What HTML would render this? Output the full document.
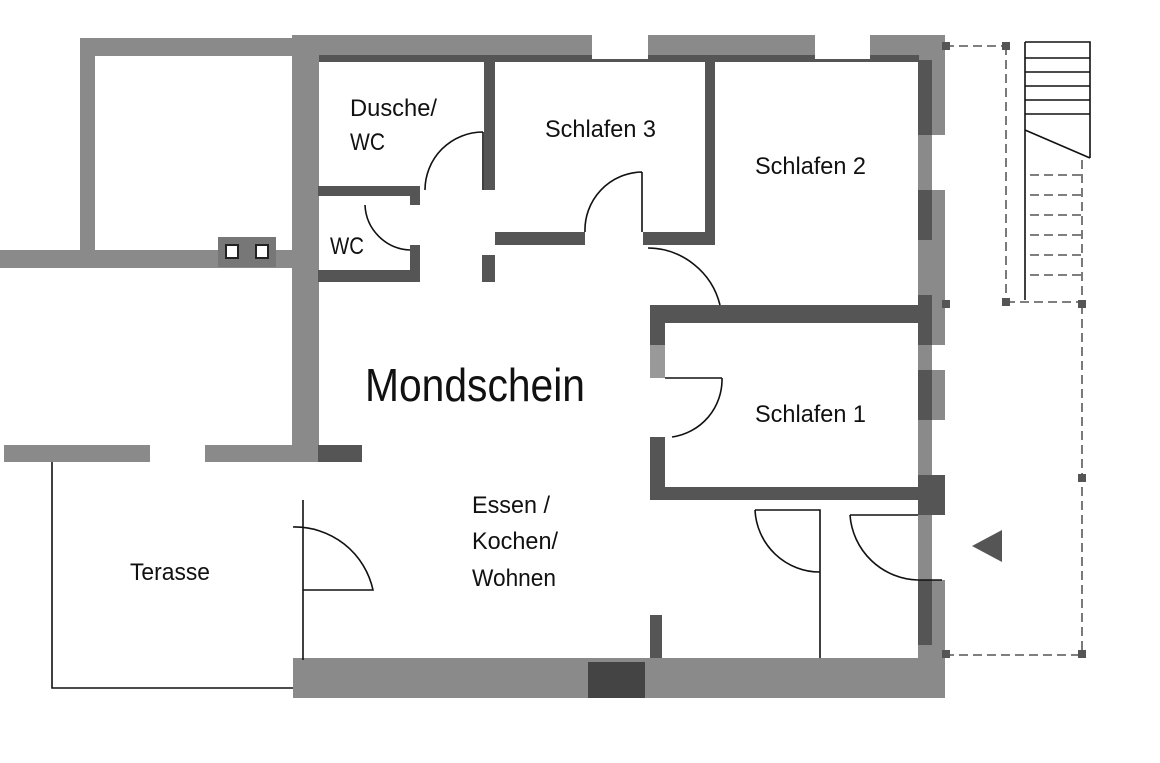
<!DOCTYPE html>
<html><head><meta charset="utf-8"><style>
html,body{margin:0;padding:0;background:#fff;width:1160px;height:763px;overflow:hidden}
text{font-family:"Liberation Sans",sans-serif;fill:#111}
</style></head><body>
<svg width="1160" height="763" viewBox="0 0 1160 763" xmlns="http://www.w3.org/2000/svg">
<g fill="#8a8a8a">
 <rect x="80" y="38" width="215" height="18"/>
 <rect x="80" y="38" width="15" height="220"/>
 <rect x="0" y="250" width="300" height="18"/>
 <rect x="292" y="36" width="27" height="425"/>
 <rect x="4" y="445" width="358" height="17"/>
 <rect x="292" y="35" width="653" height="26"/>
 <rect x="918" y="35" width="27" height="625"/>
 <rect x="293" y="658" width="652" height="40"/>
</g>
<g fill="#555">
 <rect x="319" y="55" width="600" height="7"/>
 <rect x="918" y="60" width="14" height="75"/>
 <rect x="918" y="190" width="14" height="50"/>
 <rect x="918" y="295" width="14" height="50"/>
 <rect x="918" y="370" width="14" height="50"/>
 <rect x="918" y="475" width="27" height="40"/>
 <rect x="918" y="580" width="14" height="65"/>
 <rect x="588" y="662" width="57" height="36" fill="#444"/>
 <rect x="318" y="445" width="44" height="17"/>
 <rect x="318" y="186" width="102" height="10"/>
 <rect x="410" y="186" width="10" height="19"/>
 <rect x="318" y="270" width="102" height="12"/>
 <rect x="410" y="245" width="10" height="37"/>
 <rect x="484" y="62" width="11" height="128"/>
 <rect x="482" y="255" width="13" height="27"/>
 <rect x="495" y="232" width="90" height="13"/>
 <rect x="643" y="232" width="72" height="13"/>
 <rect x="705" y="62" width="10" height="183"/>
 <rect x="650" y="305" width="270" height="18"/>
 <rect x="650" y="305" width="15" height="73"/>
 <rect x="650" y="437" width="15" height="63"/>
 <rect x="650" y="487" width="270" height="13"/>
 <rect x="650" y="615" width="12" height="43"/>
</g>
<g fill="#fff">
 <rect x="592" y="35" width="56" height="24"/>
 <rect x="815" y="35" width="55" height="24"/>
 <rect x="150" y="445" width="55" height="17"/>
 <rect x="932" y="135" width="13" height="55"/>
 <rect x="932" y="345" width="13" height="25"/>
 <rect x="932" y="420" width="13" height="55"/>
 <rect x="932" y="515" width="13" height="65"/>
 <rect x="650" y="345" width="15" height="33" fill="#999"/>
</g>
<rect x="218" y="237" width="58" height="30" fill="#777"/>
<rect x="226" y="245" width="12" height="13" fill="#fff" stroke="#222" stroke-width="2"/>
<rect x="256" y="245" width="12" height="13" fill="#fff" stroke="#222" stroke-width="2"/>
<g fill="none" stroke="#111" stroke-width="1.6">
 <path d="M483 132 L483 190 M483 132 A58 58 0 0 0 425 190"/>
 <path d="M365 205 A47 47 0 0 0 410 250"/>
 <path d="M642 172 L642 232 M642 172 A58 58 0 0 0 585 232"/>
 <path d="M648 248 A75 75 0 0 1 720 305"/>
 <path d="M665 378 L722 378 M722 378 A58 58 0 0 1 672 437"/>
 <path d="M303 500 L303 660 M293 527 A80 80 0 0 1 373 590 L303 590"/>
 <path d="M755 510 L820 510 L820 658 M755 510 A65 65 0 0 0 820 572"/>
 <path d="M850 515 L918 515 M850 515 A70 70 0 0 0 918 580 L942 580"/>
 <path d="M52 462 L52 688 L293 688"/>
 <path d="M1025 42 L1090 42 L1090 158 M1025 42 L1025 300 M1025 130 L1090 158 M1025 58 H1090 M1025 72 H1090 M1025 86 H1090 M1025 100 H1090 M1025 114 H1090"/>
</g>
<g fill="none" stroke="#333" stroke-width="1.3" stroke-dasharray="9 5">
 <path d="M945 46 H1006 M1006 46 V300 M1082 160 V305 M1082 305 V655 M945 655 H1082 M1006 302 H1082 M1030 175 H1082 M1030 195 H1082 M1030 215 H1082 M1030 235 H1082 M1030 255 H1082 M1030 275 H1082"/>
</g>
<g fill="#555">
 <rect x="1002" y="42" width="8" height="8"/><rect x="1002" y="298" width="8" height="8"/>
 <rect x="1078" y="300" width="8" height="8"/><rect x="1078" y="474" width="8" height="8"/>
 <rect x="1078" y="650" width="8" height="8"/><rect x="942" y="650" width="8" height="8"/>
 <rect x="942" y="42" width="8" height="8"/><rect x="942" y="300" width="8" height="8"/>
</g>
<polygon points="972,546 1002,530 1002,562" fill="#555"/>
<g font-size="24">
 <text x="350" y="116" textLength="87" lengthAdjust="spacingAndGlyphs">Dusche/</text>
 <text x="350" y="150" textLength="35" lengthAdjust="spacingAndGlyphs">WC</text>
 <text x="330" y="254" textLength="34" lengthAdjust="spacingAndGlyphs">WC</text>
 <text x="545" y="137" textLength="111" lengthAdjust="spacingAndGlyphs">Schlafen 3</text>
 <text x="755" y="174" textLength="111" lengthAdjust="spacingAndGlyphs">Schlafen 2</text>
 <text x="755" y="422" textLength="111" lengthAdjust="spacingAndGlyphs">Schlafen 1</text>
 <text x="472" y="513" textLength="78" lengthAdjust="spacingAndGlyphs">Essen /</text>
 <text x="472" y="549" textLength="86" lengthAdjust="spacingAndGlyphs">Kochen/</text>
 <text x="472" y="586" textLength="84" lengthAdjust="spacingAndGlyphs">Wohnen</text>
 <text x="130" y="580" textLength="80" lengthAdjust="spacingAndGlyphs">Terasse</text>
</g>
<text x="365" y="401" font-size="46" textLength="220" lengthAdjust="spacingAndGlyphs">Mondschein</text>
</svg>
</body></html>
